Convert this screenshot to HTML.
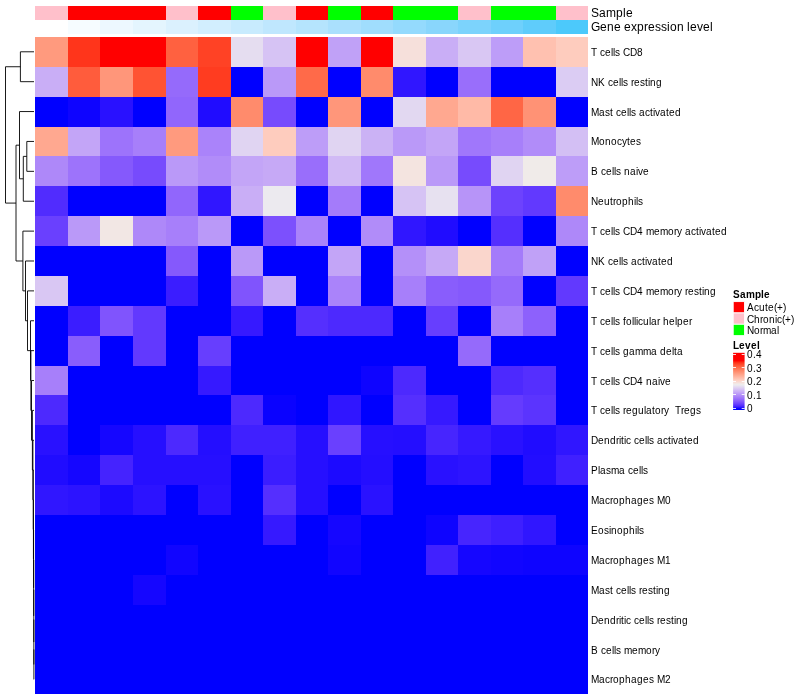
<!DOCTYPE html>
<html lang="en"><head><meta charset="utf-8"><title>Heatmap</title>
<style>
html,body{margin:0;padding:0;background:#fff;}
svg{display:block;}
text{font-family:"Liberation Sans",Arial,Helvetica,sans-serif;fill:#000;white-space:pre;}
.rl{font-size:10px;}
.al{font-size:12px;}
.lt{font-size:10px;font-weight:bold;}
.c rect{shape-rendering:crispEdges;}/*0.75*/
.d path{fill:none;stroke:#000;stroke-width:0.9;}
</style></head>
<body>
<svg width="800" height="700" viewBox="0 0 800 700">
<rect width="800" height="700" fill="#fff"/>
<g class="c">
<rect x="35.43" y="5.67" width="32.53" height="14.17" fill="#ffc0cb"/><rect x="67.96" y="5.67" width="32.53" height="14.17" fill="#ff0000"/><rect x="100.49" y="5.67" width="32.53" height="14.17" fill="#ff0000"/><rect x="133.01" y="5.67" width="32.53" height="14.17" fill="#ff0000"/><rect x="165.54" y="5.67" width="32.53" height="14.17" fill="#ffc0cb"/><rect x="198.07" y="5.67" width="32.53" height="14.17" fill="#ff0000"/><rect x="230.6" y="5.67" width="32.53" height="14.17" fill="#00ff00"/><rect x="263.12" y="5.67" width="32.53" height="14.17" fill="#ffc0cb"/><rect x="295.65" y="5.67" width="32.53" height="14.17" fill="#ff0000"/><rect x="328.18" y="5.67" width="32.53" height="14.17" fill="#00ff00"/><rect x="360.71" y="5.67" width="32.53" height="14.17" fill="#ff0000"/><rect x="393.23" y="5.67" width="32.53" height="14.17" fill="#00ff00"/><rect x="425.76" y="5.67" width="32.53" height="14.17" fill="#00ff00"/><rect x="458.29" y="5.67" width="32.53" height="14.17" fill="#ffc0cb"/><rect x="490.82" y="5.67" width="32.53" height="14.17" fill="#00ff00"/><rect x="523.34" y="5.67" width="32.53" height="14.17" fill="#00ff00"/><rect x="555.87" y="5.67" width="32.53" height="14.17" fill="#ffc0cb"/>
<rect x="35.43" y="19.84" width="32.53" height="14.18" fill="#ffffff"/><rect x="67.96" y="19.84" width="32.53" height="14.18" fill="#f6fcff"/><rect x="100.49" y="19.84" width="32.53" height="14.18" fill="#edf8ff"/><rect x="133.01" y="19.84" width="32.53" height="14.18" fill="#e4f5fe"/><rect x="165.54" y="19.84" width="32.53" height="14.18" fill="#dbf1fe"/><rect x="198.07" y="19.84" width="32.53" height="14.18" fill="#d2eefe"/><rect x="230.6" y="19.84" width="32.53" height="14.18" fill="#c8ebfe"/><rect x="263.12" y="19.84" width="32.53" height="14.18" fill="#bfe7fe"/><rect x="295.65" y="19.84" width="32.53" height="14.18" fill="#b5e4fd"/><rect x="328.18" y="19.84" width="32.53" height="14.18" fill="#aae0fd"/><rect x="360.71" y="19.84" width="32.53" height="14.18" fill="#a0ddfd"/><rect x="393.23" y="19.84" width="32.53" height="14.18" fill="#94dafd"/><rect x="425.76" y="19.84" width="32.53" height="14.18" fill="#89d6fc"/><rect x="458.29" y="19.84" width="32.53" height="14.18" fill="#7cd3fc"/><rect x="490.82" y="19.84" width="32.53" height="14.18" fill="#6ed0fc"/><rect x="523.34" y="19.84" width="32.53" height="14.18" fill="#5fccfb"/><rect x="555.87" y="19.84" width="32.53" height="14.18" fill="#4cc9fb"/>
<rect x="35.43" y="36.85" width="32.53" height="29.89" fill="#ff9a7e"/><rect x="67.96" y="36.85" width="32.53" height="29.89" fill="#ff351b"/><rect x="100.49" y="36.85" width="65.06" height="29.89" fill="#ff0000"/><rect x="165.54" y="36.85" width="32.53" height="29.89" fill="#ff6140"/><rect x="198.07" y="36.85" width="32.53" height="29.89" fill="#ff4225"/><rect x="230.6" y="36.85" width="32.53" height="29.89" fill="#e5ddf0"/><rect x="263.12" y="36.85" width="32.53" height="29.89" fill="#d6c3f4"/><rect x="295.65" y="36.85" width="32.53" height="29.89" fill="#ff0000"/><rect x="328.18" y="36.85" width="32.53" height="29.89" fill="#c0a1f7"/><rect x="360.71" y="36.85" width="32.53" height="29.89" fill="#ff0000"/><rect x="393.23" y="36.85" width="32.53" height="29.89" fill="#f6e0db"/><rect x="425.76" y="36.85" width="32.53" height="29.89" fill="#c9aef6"/><rect x="458.29" y="36.85" width="32.53" height="29.89" fill="#d9c7f3"/><rect x="490.82" y="36.85" width="32.53" height="29.89" fill="#bd9df8"/><rect x="523.34" y="36.85" width="32.53" height="29.89" fill="#ffc1b0"/><rect x="555.87" y="36.85" width="32.53" height="29.89" fill="#feccbe"/>
<rect x="35.43" y="66.74" width="32.53" height="29.89" fill="#c9aef6"/><rect x="67.96" y="66.74" width="32.53" height="29.89" fill="#ff5c3c"/><rect x="100.49" y="66.74" width="32.53" height="29.89" fill="#ff967a"/><rect x="133.01" y="66.74" width="32.53" height="29.89" fill="#ff5333"/><rect x="165.54" y="66.74" width="32.53" height="29.89" fill="#956afb"/><rect x="198.07" y="66.74" width="32.53" height="29.89" fill="#ff3c20"/><rect x="230.6" y="66.74" width="32.53" height="29.89" fill="#0000ff"/><rect x="263.12" y="66.74" width="32.53" height="29.89" fill="#ba99f8"/><rect x="295.65" y="66.74" width="32.53" height="29.89" fill="#ff6a49"/><rect x="328.18" y="66.74" width="32.53" height="29.89" fill="#0000ff"/><rect x="360.71" y="66.74" width="32.53" height="29.89" fill="#ff8b6c"/><rect x="393.23" y="66.74" width="32.53" height="29.89" fill="#3016ff"/><rect x="425.76" y="66.74" width="32.53" height="29.89" fill="#0000ff"/><rect x="458.29" y="66.74" width="32.53" height="29.89" fill="#996efb"/><rect x="490.82" y="66.74" width="65.06" height="29.89" fill="#0000ff"/><rect x="555.87" y="66.74" width="32.53" height="29.89" fill="#dbccf3"/>
<rect x="35.43" y="96.62" width="32.53" height="29.89" fill="#0000ff"/><rect x="67.96" y="96.62" width="32.53" height="29.89" fill="#0e04ff"/><rect x="100.49" y="96.62" width="32.53" height="29.89" fill="#2911ff"/><rect x="133.01" y="96.62" width="32.53" height="29.89" fill="#0000ff"/><rect x="165.54" y="96.62" width="32.53" height="29.89" fill="#9166fc"/><rect x="198.07" y="96.62" width="32.53" height="29.89" fill="#200cff"/><rect x="230.6" y="96.62" width="32.53" height="29.89" fill="#ff8b6c"/><rect x="263.12" y="96.62" width="32.53" height="29.89" fill="#774bfd"/><rect x="295.65" y="96.62" width="32.53" height="29.89" fill="#0000ff"/><rect x="328.18" y="96.62" width="32.53" height="29.89" fill="#ff967a"/><rect x="360.71" y="96.62" width="32.53" height="29.89" fill="#0000ff"/><rect x="393.23" y="96.62" width="32.53" height="29.89" fill="#e2d8f1"/><rect x="425.76" y="96.62" width="32.53" height="29.89" fill="#ffa890"/><rect x="458.29" y="96.62" width="32.53" height="29.89" fill="#ffbaa7"/><rect x="490.82" y="96.62" width="32.53" height="29.89" fill="#ff6645"/><rect x="523.34" y="96.62" width="32.53" height="29.89" fill="#ff9275"/><rect x="555.87" y="96.62" width="32.53" height="29.89" fill="#0000ff"/>
<rect x="35.43" y="126.51" width="32.53" height="29.89" fill="#ffa890"/><rect x="67.96" y="126.51" width="32.53" height="29.89" fill="#c3a5f7"/><rect x="100.49" y="126.51" width="32.53" height="29.89" fill="#9d73fb"/><rect x="133.01" y="126.51" width="32.53" height="29.89" fill="#a77ffa"/><rect x="165.54" y="126.51" width="32.53" height="29.89" fill="#ff9a7e"/><rect x="198.07" y="126.51" width="32.53" height="29.89" fill="#aa83fa"/><rect x="230.6" y="126.51" width="32.53" height="29.89" fill="#e0d4f2"/><rect x="263.12" y="126.51" width="32.53" height="29.89" fill="#feccbe"/><rect x="295.65" y="126.51" width="32.53" height="29.89" fill="#bd9df8"/><rect x="328.18" y="126.51" width="32.53" height="29.89" fill="#e0d4f2"/><rect x="360.71" y="126.51" width="32.53" height="29.89" fill="#cbb2f5"/><rect x="393.23" y="126.51" width="32.53" height="29.89" fill="#ba99f8"/><rect x="425.76" y="126.51" width="32.53" height="29.89" fill="#c3a5f7"/><rect x="458.29" y="126.51" width="32.53" height="29.89" fill="#a077fb"/><rect x="490.82" y="126.51" width="32.53" height="29.89" fill="#a77ffa"/><rect x="523.34" y="126.51" width="32.53" height="29.89" fill="#b18cf9"/><rect x="555.87" y="126.51" width="32.53" height="29.89" fill="#d3bff4"/>
<rect x="35.43" y="156.39" width="32.53" height="29.89" fill="#ae88f9"/><rect x="67.96" y="156.39" width="32.53" height="29.89" fill="#9d73fb"/><rect x="100.49" y="156.39" width="32.53" height="29.89" fill="#8559fc"/><rect x="133.01" y="156.39" width="32.53" height="29.89" fill="#774bfd"/><rect x="165.54" y="156.39" width="32.53" height="29.89" fill="#ba99f8"/><rect x="198.07" y="156.39" width="32.53" height="29.89" fill="#b18cf9"/><rect x="230.6" y="156.39" width="32.53" height="29.89" fill="#c3a5f7"/><rect x="263.12" y="156.39" width="32.53" height="29.89" fill="#c6a9f6"/><rect x="295.65" y="156.39" width="32.53" height="29.89" fill="#996efb"/><rect x="328.18" y="156.39" width="32.53" height="29.89" fill="#d1baf5"/><rect x="360.71" y="156.39" width="32.53" height="29.89" fill="#a077fb"/><rect x="393.23" y="156.39" width="32.53" height="29.89" fill="#f4e4e0"/><rect x="425.76" y="156.39" width="32.53" height="29.89" fill="#ba99f8"/><rect x="458.29" y="156.39" width="32.53" height="29.89" fill="#774bfd"/><rect x="490.82" y="156.39" width="32.53" height="29.89" fill="#e0d4f2"/><rect x="523.34" y="156.39" width="32.53" height="29.89" fill="#f0ebe9"/><rect x="555.87" y="156.39" width="32.53" height="29.89" fill="#bd9df8"/>
<rect x="35.43" y="186.28" width="32.53" height="29.89" fill="#512cfe"/><rect x="67.96" y="186.28" width="97.58" height="29.89" fill="#0000ff"/><rect x="165.54" y="186.28" width="32.53" height="29.89" fill="#9166fc"/><rect x="198.07" y="186.28" width="32.53" height="29.89" fill="#3016ff"/><rect x="230.6" y="186.28" width="32.53" height="29.89" fill="#c9aef6"/><rect x="263.12" y="186.28" width="32.53" height="29.89" fill="#eceaef"/><rect x="295.65" y="186.28" width="32.53" height="29.89" fill="#0000ff"/><rect x="328.18" y="186.28" width="32.53" height="29.89" fill="#a47bfa"/><rect x="360.71" y="186.28" width="32.53" height="29.89" fill="#0000ff"/><rect x="393.23" y="186.28" width="32.53" height="29.89" fill="#d6c3f4"/><rect x="425.76" y="186.28" width="32.53" height="29.89" fill="#e7e1f0"/><rect x="458.29" y="186.28" width="32.53" height="29.89" fill="#b794f8"/><rect x="490.82" y="186.28" width="32.53" height="29.89" fill="#6d42fd"/><rect x="523.34" y="186.28" width="32.53" height="29.89" fill="#6239fe"/><rect x="555.87" y="186.28" width="32.53" height="29.89" fill="#ff8b6c"/>
<rect x="35.43" y="216.16" width="32.53" height="29.89" fill="#6a40fe"/><rect x="67.96" y="216.16" width="32.53" height="29.89" fill="#ba99f8"/><rect x="100.49" y="216.16" width="32.53" height="29.89" fill="#f2e7e4"/><rect x="133.01" y="216.16" width="32.53" height="29.89" fill="#ae88f9"/><rect x="165.54" y="216.16" width="32.53" height="29.89" fill="#a77ffa"/><rect x="198.07" y="216.16" width="32.53" height="29.89" fill="#ba99f8"/><rect x="230.6" y="216.16" width="32.53" height="29.89" fill="#0000ff"/><rect x="263.12" y="216.16" width="32.53" height="29.89" fill="#7c50fd"/><rect x="295.65" y="216.16" width="32.53" height="29.89" fill="#aa83fa"/><rect x="328.18" y="216.16" width="32.53" height="29.89" fill="#0000ff"/><rect x="360.71" y="216.16" width="32.53" height="29.89" fill="#b18cf9"/><rect x="393.23" y="216.16" width="32.53" height="29.89" fill="#3016ff"/><rect x="425.76" y="216.16" width="32.53" height="29.89" fill="#200cff"/><rect x="458.29" y="216.16" width="32.53" height="29.89" fill="#0000ff"/><rect x="490.82" y="216.16" width="32.53" height="29.89" fill="#552ffe"/><rect x="523.34" y="216.16" width="32.53" height="29.89" fill="#0000ff"/><rect x="555.87" y="216.16" width="32.53" height="29.89" fill="#ae88f9"/>
<rect x="35.43" y="246.05" width="130.11" height="29.89" fill="#0000ff"/><rect x="165.54" y="246.05" width="32.53" height="29.89" fill="#8559fc"/><rect x="198.07" y="246.05" width="32.53" height="29.89" fill="#0000ff"/><rect x="230.6" y="246.05" width="32.53" height="29.89" fill="#ba99f8"/><rect x="263.12" y="246.05" width="65.06" height="29.89" fill="#0000ff"/><rect x="328.18" y="246.05" width="32.53" height="29.89" fill="#c3a5f7"/><rect x="360.71" y="246.05" width="32.53" height="29.89" fill="#0000ff"/><rect x="393.23" y="246.05" width="32.53" height="29.89" fill="#b490f9"/><rect x="425.76" y="246.05" width="32.53" height="29.89" fill="#c6a9f6"/><rect x="458.29" y="246.05" width="32.53" height="29.89" fill="#fad6cc"/><rect x="490.82" y="246.05" width="32.53" height="29.89" fill="#a47bfa"/><rect x="523.34" y="246.05" width="32.53" height="29.89" fill="#c0a1f7"/><rect x="555.87" y="246.05" width="32.53" height="29.89" fill="#0000ff"/>
<rect x="35.43" y="275.93" width="32.53" height="29.89" fill="#d9c7f3"/><rect x="67.96" y="275.93" width="97.58" height="29.89" fill="#0000ff"/><rect x="165.54" y="275.93" width="32.53" height="29.89" fill="#3b1dff"/><rect x="198.07" y="275.93" width="32.53" height="29.89" fill="#0000ff"/><rect x="230.6" y="275.93" width="32.53" height="29.89" fill="#8054fd"/><rect x="263.12" y="275.93" width="32.53" height="29.89" fill="#c9aef6"/><rect x="295.65" y="275.93" width="32.53" height="29.89" fill="#0000ff"/><rect x="328.18" y="275.93" width="32.53" height="29.89" fill="#aa83fa"/><rect x="360.71" y="275.93" width="32.53" height="29.89" fill="#0000ff"/><rect x="393.23" y="275.93" width="32.53" height="29.89" fill="#a77ffa"/><rect x="425.76" y="275.93" width="32.53" height="29.89" fill="#895dfc"/><rect x="458.29" y="275.93" width="32.53" height="29.89" fill="#8559fc"/><rect x="490.82" y="275.93" width="32.53" height="29.89" fill="#956afb"/><rect x="523.34" y="275.93" width="32.53" height="29.89" fill="#0000ff"/><rect x="555.87" y="275.93" width="32.53" height="29.89" fill="#6239fe"/>
<rect x="35.43" y="305.82" width="32.53" height="29.89" fill="#0000ff"/><rect x="67.96" y="305.82" width="32.53" height="29.89" fill="#3b1dff"/><rect x="100.49" y="305.82" width="32.53" height="29.89" fill="#8054fd"/><rect x="133.01" y="305.82" width="32.53" height="29.89" fill="#6239fe"/><rect x="165.54" y="305.82" width="65.06" height="29.89" fill="#0000ff"/><rect x="230.6" y="305.82" width="32.53" height="29.89" fill="#3619ff"/><rect x="263.12" y="305.82" width="32.53" height="29.89" fill="#0000ff"/><rect x="295.65" y="305.82" width="32.53" height="29.89" fill="#552ffe"/><rect x="328.18" y="305.82" width="65.06" height="29.89" fill="#4d29fe"/><rect x="393.23" y="305.82" width="32.53" height="29.89" fill="#0000ff"/><rect x="425.76" y="305.82" width="32.53" height="29.89" fill="#673efe"/><rect x="458.29" y="305.82" width="32.53" height="29.89" fill="#0000ff"/><rect x="490.82" y="305.82" width="32.53" height="29.89" fill="#a77ffa"/><rect x="523.34" y="305.82" width="32.53" height="29.89" fill="#8d61fc"/><rect x="555.87" y="305.82" width="32.53" height="29.89" fill="#0000ff"/>
<rect x="35.43" y="335.7" width="32.53" height="29.89" fill="#0000ff"/><rect x="67.96" y="335.7" width="32.53" height="29.89" fill="#895dfc"/><rect x="100.49" y="335.7" width="32.53" height="29.89" fill="#0000ff"/><rect x="133.01" y="335.7" width="32.53" height="29.89" fill="#6239fe"/><rect x="165.54" y="335.7" width="32.53" height="29.89" fill="#0000ff"/><rect x="198.07" y="335.7" width="32.53" height="29.89" fill="#673efe"/><rect x="230.6" y="335.7" width="227.69" height="29.89" fill="#0000ff"/><rect x="458.29" y="335.7" width="32.53" height="29.89" fill="#956afb"/><rect x="490.82" y="335.7" width="97.58" height="29.89" fill="#0000ff"/>
<rect x="35.43" y="365.59" width="32.53" height="29.89" fill="#a77ffa"/><rect x="67.96" y="365.59" width="130.11" height="29.89" fill="#0000ff"/><rect x="198.07" y="365.59" width="32.53" height="29.89" fill="#3619ff"/><rect x="230.6" y="365.59" width="130.11" height="29.89" fill="#0000ff"/><rect x="360.71" y="365.59" width="32.53" height="29.89" fill="#0e04ff"/><rect x="393.23" y="365.59" width="32.53" height="29.89" fill="#4d29fe"/><rect x="425.76" y="365.59" width="65.06" height="29.89" fill="#0000ff"/><rect x="490.82" y="365.59" width="32.53" height="29.89" fill="#4d29fe"/><rect x="523.34" y="365.59" width="32.53" height="29.89" fill="#552ffe"/><rect x="555.87" y="365.59" width="32.53" height="29.89" fill="#0000ff"/>
<rect x="35.43" y="395.48" width="32.53" height="29.89" fill="#4d29fe"/><rect x="67.96" y="395.48" width="162.64" height="29.89" fill="#0000ff"/><rect x="230.6" y="395.48" width="32.53" height="29.89" fill="#4d29fe"/><rect x="263.12" y="395.48" width="32.53" height="29.89" fill="#0a02ff"/><rect x="295.65" y="395.48" width="32.53" height="29.89" fill="#0000ff"/><rect x="328.18" y="395.48" width="32.53" height="29.89" fill="#3016ff"/><rect x="360.71" y="395.48" width="32.53" height="29.89" fill="#0000ff"/><rect x="393.23" y="395.48" width="32.53" height="29.89" fill="#552ffe"/><rect x="425.76" y="395.48" width="32.53" height="29.89" fill="#3619ff"/><rect x="458.29" y="395.48" width="32.53" height="29.89" fill="#0000ff"/><rect x="490.82" y="395.48" width="32.53" height="29.89" fill="#653bfe"/><rect x="523.34" y="395.48" width="32.53" height="29.89" fill="#5b34fe"/><rect x="555.87" y="395.48" width="32.53" height="29.89" fill="#0000ff"/>
<rect x="35.43" y="425.36" width="32.53" height="29.89" fill="#2911ff"/><rect x="67.96" y="425.36" width="32.53" height="29.89" fill="#0000ff"/><rect x="100.49" y="425.36" width="32.53" height="29.89" fill="#1506ff"/><rect x="133.01" y="425.36" width="32.53" height="29.89" fill="#260fff"/><rect x="165.54" y="425.36" width="32.53" height="29.89" fill="#4d29fe"/><rect x="198.07" y="425.36" width="32.53" height="29.89" fill="#240eff"/><rect x="230.6" y="425.36" width="65.06" height="29.89" fill="#4020ff"/><rect x="295.65" y="425.36" width="32.53" height="29.89" fill="#260fff"/><rect x="328.18" y="425.36" width="32.53" height="29.89" fill="#6a40fe"/><rect x="360.71" y="425.36" width="32.53" height="29.89" fill="#260fff"/><rect x="393.23" y="425.36" width="32.53" height="29.89" fill="#240eff"/><rect x="425.76" y="425.36" width="32.53" height="29.89" fill="#4725fe"/><rect x="458.29" y="425.36" width="32.53" height="29.89" fill="#3619ff"/><rect x="490.82" y="425.36" width="32.53" height="29.89" fill="#2911ff"/><rect x="523.34" y="425.36" width="32.53" height="29.89" fill="#200cff"/><rect x="555.87" y="425.36" width="32.53" height="29.89" fill="#3016ff"/>
<rect x="35.43" y="455.25" width="32.53" height="29.89" fill="#200cff"/><rect x="67.96" y="455.25" width="32.53" height="29.89" fill="#1506ff"/><rect x="100.49" y="455.25" width="32.53" height="29.89" fill="#4523fe"/><rect x="133.01" y="455.25" width="97.58" height="29.89" fill="#260fff"/><rect x="230.6" y="455.25" width="32.53" height="29.89" fill="#0000ff"/><rect x="263.12" y="455.25" width="32.53" height="29.89" fill="#3b1dff"/><rect x="295.65" y="455.25" width="32.53" height="29.89" fill="#260fff"/><rect x="328.18" y="455.25" width="32.53" height="29.89" fill="#1c0aff"/><rect x="360.71" y="455.25" width="32.53" height="29.89" fill="#240eff"/><rect x="393.23" y="455.25" width="32.53" height="29.89" fill="#0000ff"/><rect x="425.76" y="455.25" width="32.53" height="29.89" fill="#2911ff"/><rect x="458.29" y="455.25" width="32.53" height="29.89" fill="#2d14ff"/><rect x="490.82" y="455.25" width="32.53" height="29.89" fill="#0000ff"/><rect x="523.34" y="455.25" width="32.53" height="29.89" fill="#220dff"/><rect x="555.87" y="455.25" width="32.53" height="29.89" fill="#4020ff"/>
<rect x="35.43" y="485.13" width="32.53" height="29.89" fill="#3016ff"/><rect x="67.96" y="485.13" width="32.53" height="29.89" fill="#2c13ff"/><rect x="100.49" y="485.13" width="32.53" height="29.89" fill="#1c0aff"/><rect x="133.01" y="485.13" width="32.53" height="29.89" fill="#2c13ff"/><rect x="165.54" y="485.13" width="32.53" height="29.89" fill="#0000ff"/><rect x="198.07" y="485.13" width="32.53" height="29.89" fill="#2911ff"/><rect x="230.6" y="485.13" width="32.53" height="29.89" fill="#0000ff"/><rect x="263.12" y="485.13" width="32.53" height="29.89" fill="#552ffe"/><rect x="295.65" y="485.13" width="32.53" height="29.89" fill="#260fff"/><rect x="328.18" y="485.13" width="32.53" height="29.89" fill="#0000ff"/><rect x="360.71" y="485.13" width="32.53" height="29.89" fill="#2a12ff"/><rect x="393.23" y="485.13" width="195.17" height="29.89" fill="#0000ff"/>
<rect x="35.43" y="515.02" width="227.69" height="29.89" fill="#0000ff"/><rect x="263.12" y="515.02" width="32.53" height="29.89" fill="#3619ff"/><rect x="295.65" y="515.02" width="32.53" height="29.89" fill="#0000ff"/><rect x="328.18" y="515.02" width="32.53" height="29.89" fill="#1506ff"/><rect x="360.71" y="515.02" width="65.06" height="29.89" fill="#0000ff"/><rect x="425.76" y="515.02" width="32.53" height="29.89" fill="#0e04ff"/><rect x="458.29" y="515.02" width="32.53" height="29.89" fill="#4725fe"/><rect x="490.82" y="515.02" width="32.53" height="29.89" fill="#3e1fff"/><rect x="523.34" y="515.02" width="32.53" height="29.89" fill="#3016ff"/><rect x="555.87" y="515.02" width="32.53" height="29.89" fill="#0000ff"/>
<rect x="35.43" y="544.9" width="130.11" height="29.89" fill="#0000ff"/><rect x="165.54" y="544.9" width="32.53" height="29.89" fill="#1105ff"/><rect x="198.07" y="544.9" width="130.11" height="29.89" fill="#0000ff"/><rect x="328.18" y="544.9" width="32.53" height="29.89" fill="#1105ff"/><rect x="360.71" y="544.9" width="65.06" height="29.89" fill="#0000ff"/><rect x="425.76" y="544.9" width="32.53" height="29.89" fill="#4121fe"/><rect x="458.29" y="544.9" width="32.53" height="29.89" fill="#1506ff"/><rect x="490.82" y="544.9" width="32.53" height="29.89" fill="#1105ff"/><rect x="523.34" y="544.9" width="65.06" height="29.89" fill="#0e04ff"/>
<rect x="35.43" y="574.79" width="97.58" height="29.89" fill="#0000ff"/><rect x="133.01" y="574.79" width="32.53" height="29.89" fill="#1506ff"/><rect x="165.54" y="574.79" width="422.86" height="29.89" fill="#0000ff"/>
<rect x="35.43" y="604.67" width="552.97" height="29.89" fill="#0000ff"/>
<rect x="35.43" y="634.56" width="552.97" height="29.89" fill="#0000ff"/>
<rect x="35.43" y="664.44" width="552.97" height="29.89" fill="#0000ff"/>
</g>
<g class="rl">
<text class="rl" x="591 597 600 605 611 613 615 620 623 630 637" y="56" xml:space="preserve">T cells CD8</text>
<text class="rl" x="591 598 605 608 613 619 621 623 628 631 634 640 645 648 650 656" y="86" xml:space="preserve">NK cells resting</text>
<text class="rl" x="591 599 605 610 613 616 621 627 629 631 636 639 645 650 653 655 660 666 669 675" y="116" xml:space="preserve">Mast cells activated</text>
<text class="rl" x="591 599 605 611 617 622 627 630 636" y="145" xml:space="preserve">Monocytes</text>
<text class="rl" x="591 598 601 606 612 614 616 621 624 630 636 638 643" y="175" xml:space="preserve">B cells naive</text>
<text class="rl" x="591 598 604 610 613 616 622 628 634 636 638" y="205" xml:space="preserve">Neutrophils</text>
<text class="rl" x="591 597 600 605 611 613 615 620 623 630 637 643 646 654 660 668 674 677 682 685 691 696 699 701 706 712 715 721" y="235" xml:space="preserve">T cells CD4 memory activated</text>
<text class="rl" x="591 598 605 608 613 619 621 623 628 631 637 642 645 647 652 658 661 667" y="265" xml:space="preserve">NK cells activated</text>
<text class="rl" x="591 597 600 605 611 613 615 620 623 630 637 643 646 654 660 668 674 677 682 685 688 694 699 702 704 710" y="295" xml:space="preserve">T cells CD4 memory resting</text>
<text class="rl" x="591 597 600 605 611 613 615 620 623 626 632 634 636 638 643 649 651 657 660 663 669 675 677 683 689" y="325" xml:space="preserve">T cells follicular helper</text>
<text class="rl" x="591 597 600 605 611 613 615 620 623 629 635 643 651 657 660 666 672 674 677" y="355" xml:space="preserve">T cells gamma delta</text>
<text class="rl" x="591 597 600 605 611 613 615 620 623 630 637 643 646 652 658 660 665" y="385" xml:space="preserve">T cells CD4 naive</text>
<text class="rl" x="591 597 600 605 611 613 615 620 623 626 632 638 644 646 652 655 661 664 669 672 675 681 684 690 696" y="414" xml:space="preserve">T cells regulatory  Tregs</text>
<text class="rl" x="591 598 604 610 616 619 621 624 626 631 634 639 645 647 649 654 657 663 668 671 673 678 684 687 693" y="444" xml:space="preserve">Dendritic cells activated</text>
<text class="rl" x="591 598 600 606 611 619 625 628 633 639 641 643" y="474" xml:space="preserve">Plasma cells</text>
<text class="rl" x="591 599 605 610 613 619 625 631 637 643 649 654 657 665" y="504" xml:space="preserve">Macrophages M0</text>
<text class="rl" x="591 598 604 609 611 617 623 629 635 637 639" y="534" xml:space="preserve">Eosinophils</text>
<text class="rl" x="591 599 605 610 613 619 625 631 637 643 649 654 657 665" y="564" xml:space="preserve">Macrophages M1</text>
<text class="rl" x="591 599 605 610 613 616 621 627 629 631 636 639 642 648 653 656 658 664" y="594" xml:space="preserve">Mast cells resting</text>
<text class="rl" x="591 598 604 610 616 619 621 624 626 631 634 639 645 647 649 654 657 660 666 671 674 676 682" y="624" xml:space="preserve">Dendritic cells resting</text>
<text class="rl" x="591 598 601 606 612 614 616 621 624 632 638 646 652 655" y="654" xml:space="preserve">B cells memory</text>
<text class="rl" x="591 599 605 610 613 619 625 631 637 643 649 654 657 665" y="683" xml:space="preserve">Macrophages M2</text>
</g>
<g class="al">
<text class="al" x="591 599 606 616 623 626" y="17" xml:space="preserve">Sample</text>
<text class="al" x="591 600 607 614 621 624 631 637 644 648 655 661 667 670 677 684 687 690 697 703 710" y="31" xml:space="preserve">Gene expression level</text>
</g>
<g class="d"><path d="M34 649.5H33.9V679.39H34M34 619.62H33.85V664.44H33.9M34 589.73H33.8V642.03H33.85M34 559.85H33.7V615.88H33.8M34 529.96H33.6V587.86H33.7M34 500.07H33.45V558.91H33.6M34 470.19H33.25V529.49H33.45M34 440.3H32.9V499.84H33.25M34 410.42H32.4V470.07H32.9M34 380.53H31.5V440.25H32.4M34 350.65H30.9V410.39H31.5M34 320.76H30.5V380.52H30.9M34 290.88H27.5V350.64H30.5M34 260.99H25.5V320.76H27.5M34 231.11H22.9V290.87H25.5M34 141.45H26.8V171.33H34M26.8 156.39H23.3V201.22H34M34 111.56H19.5V178.81H23.3M19.5 145.18H16V260.99H22.9M34 51.79H20.4V81.68H34M20.4 66.74H5.5V203.09H16"/></g>
<text class="lt" x="733 740 746 755 761 764" y="298" xml:space="preserve">Sample</text>
<rect x="733.2" y="301.6" width="11.34" height="11.34" fill="#ff0000" stroke="#fff" stroke-width="0.9"/><text class="rl" x="747 754 759 765 768 774 777 783" y="311" xml:space="preserve">Acute(+)</text>
<rect x="733.2" y="312.94" width="11.34" height="11.34" fill="#ffc0cb" stroke="#fff" stroke-width="0.9"/><text class="rl" x="747 754 760 763 769 775 777 782 785 791" y="323" xml:space="preserve">Chronic(+)</text>
<rect x="733.2" y="324.28" width="11.34" height="11.34" fill="#00ff00" stroke="#fff" stroke-width="0.9"/><text class="rl" x="747 754 760 763 771 777" y="334" xml:space="preserve">Normal</text>
<text class="lt" x="733 739 745 751 757" y="349" xml:space="preserve">Level</text>
<defs><linearGradient id="lg" x1="0" y1="0" x2="0" y2="1"><stop offset="0" stop-color="#ff0000"/><stop offset="0.0175" stop-color="#ff0000"/><stop offset="0.0351" stop-color="#ff0000"/><stop offset="0.0526" stop-color="#ff0000"/><stop offset="0.0702" stop-color="#ff0000"/><stop offset="0.0877" stop-color="#ff0000"/><stop offset="0.1053" stop-color="#ff0000"/><stop offset="0.1228" stop-color="#ff0000"/><stop offset="0.1404" stop-color="#ff0000"/><stop offset="0.1579" stop-color="#ff230f"/><stop offset="0.1754" stop-color="#ff351b"/><stop offset="0.193" stop-color="#ff4326"/><stop offset="0.2105" stop-color="#ff4f30"/><stop offset="0.2281" stop-color="#ff5a39"/><stop offset="0.2456" stop-color="#ff6443"/><stop offset="0.2632" stop-color="#ff6d4c"/><stop offset="0.2807" stop-color="#ff7655"/><stop offset="0.2982" stop-color="#ff7e5f"/><stop offset="0.3158" stop-color="#ff8768"/><stop offset="0.3333" stop-color="#ff8f71"/><stop offset="0.3509" stop-color="#ff977b"/><stop offset="0.3684" stop-color="#ff9f84"/><stop offset="0.386" stop-color="#ffa68e"/><stop offset="0.4035" stop-color="#ffae97"/><stop offset="0.4211" stop-color="#ffb5a1"/><stop offset="0.4386" stop-color="#ffbdab"/><stop offset="0.4561" stop-color="#ffc4b4"/><stop offset="0.4737" stop-color="#feccbe"/><stop offset="0.4912" stop-color="#fcd3c8"/><stop offset="0.5088" stop-color="#f9dad2"/><stop offset="0.5263" stop-color="#f5e1dc"/><stop offset="0.5439" stop-color="#f1e9e7"/><stop offset="0.5614" stop-color="#edecee"/><stop offset="0.5789" stop-color="#e8e2f0"/><stop offset="0.5965" stop-color="#e3d9f1"/><stop offset="0.614" stop-color="#ded0f2"/><stop offset="0.6316" stop-color="#d9c7f3"/><stop offset="0.6491" stop-color="#d3bef4"/><stop offset="0.6667" stop-color="#cdb5f5"/><stop offset="0.6842" stop-color="#c8acf6"/><stop offset="0.7018" stop-color="#c2a3f7"/><stop offset="0.7193" stop-color="#bb9af8"/><stop offset="0.7368" stop-color="#b591f9"/><stop offset="0.7544" stop-color="#ae88f9"/><stop offset="0.7719" stop-color="#a780fa"/><stop offset="0.7895" stop-color="#a077fb"/><stop offset="0.807" stop-color="#986efb"/><stop offset="0.8246" stop-color="#9065fc"/><stop offset="0.8421" stop-color="#885cfc"/><stop offset="0.8596" stop-color="#7e52fd"/><stop offset="0.8772" stop-color="#7449fd"/><stop offset="0.8947" stop-color="#693ffe"/><stop offset="0.9123" stop-color="#5d35fe"/><stop offset="0.9298" stop-color="#4e2afe"/><stop offset="0.9474" stop-color="#3b1dff"/><stop offset="0.9649" stop-color="#1d0aff"/><stop offset="0.9825" stop-color="#0000ff"/><stop offset="1" stop-color="#0000ff"/></linearGradient></defs>
<rect x="733.1" y="352.8" width="11.5" height="57.2" fill="url(#lg)"/>
<text class="rl" x="747 753 756" y="358" xml:space="preserve">0.4</text>
<text class="rl" x="747 753 756" y="372" xml:space="preserve">0.3</text>
<text class="rl" x="747 753 756" y="385" xml:space="preserve">0.2</text>
<text class="rl" x="747 753 756" y="399" xml:space="preserve">0.1</text>
<text class="rl" x="747" y="412" xml:space="preserve">0</text>
<path d="M733 354.5h3M744.7 354.5h-3M733 367.5h3M744.7 367.5h-3M733 381.5h3M744.7 381.5h-3M733 394.5h3M744.7 394.5h-3M733 408.5h3M744.7 408.5h-3" fill="none" stroke="#fff" stroke-opacity="0.85" stroke-width="1"/>
</svg>
</body></html>
